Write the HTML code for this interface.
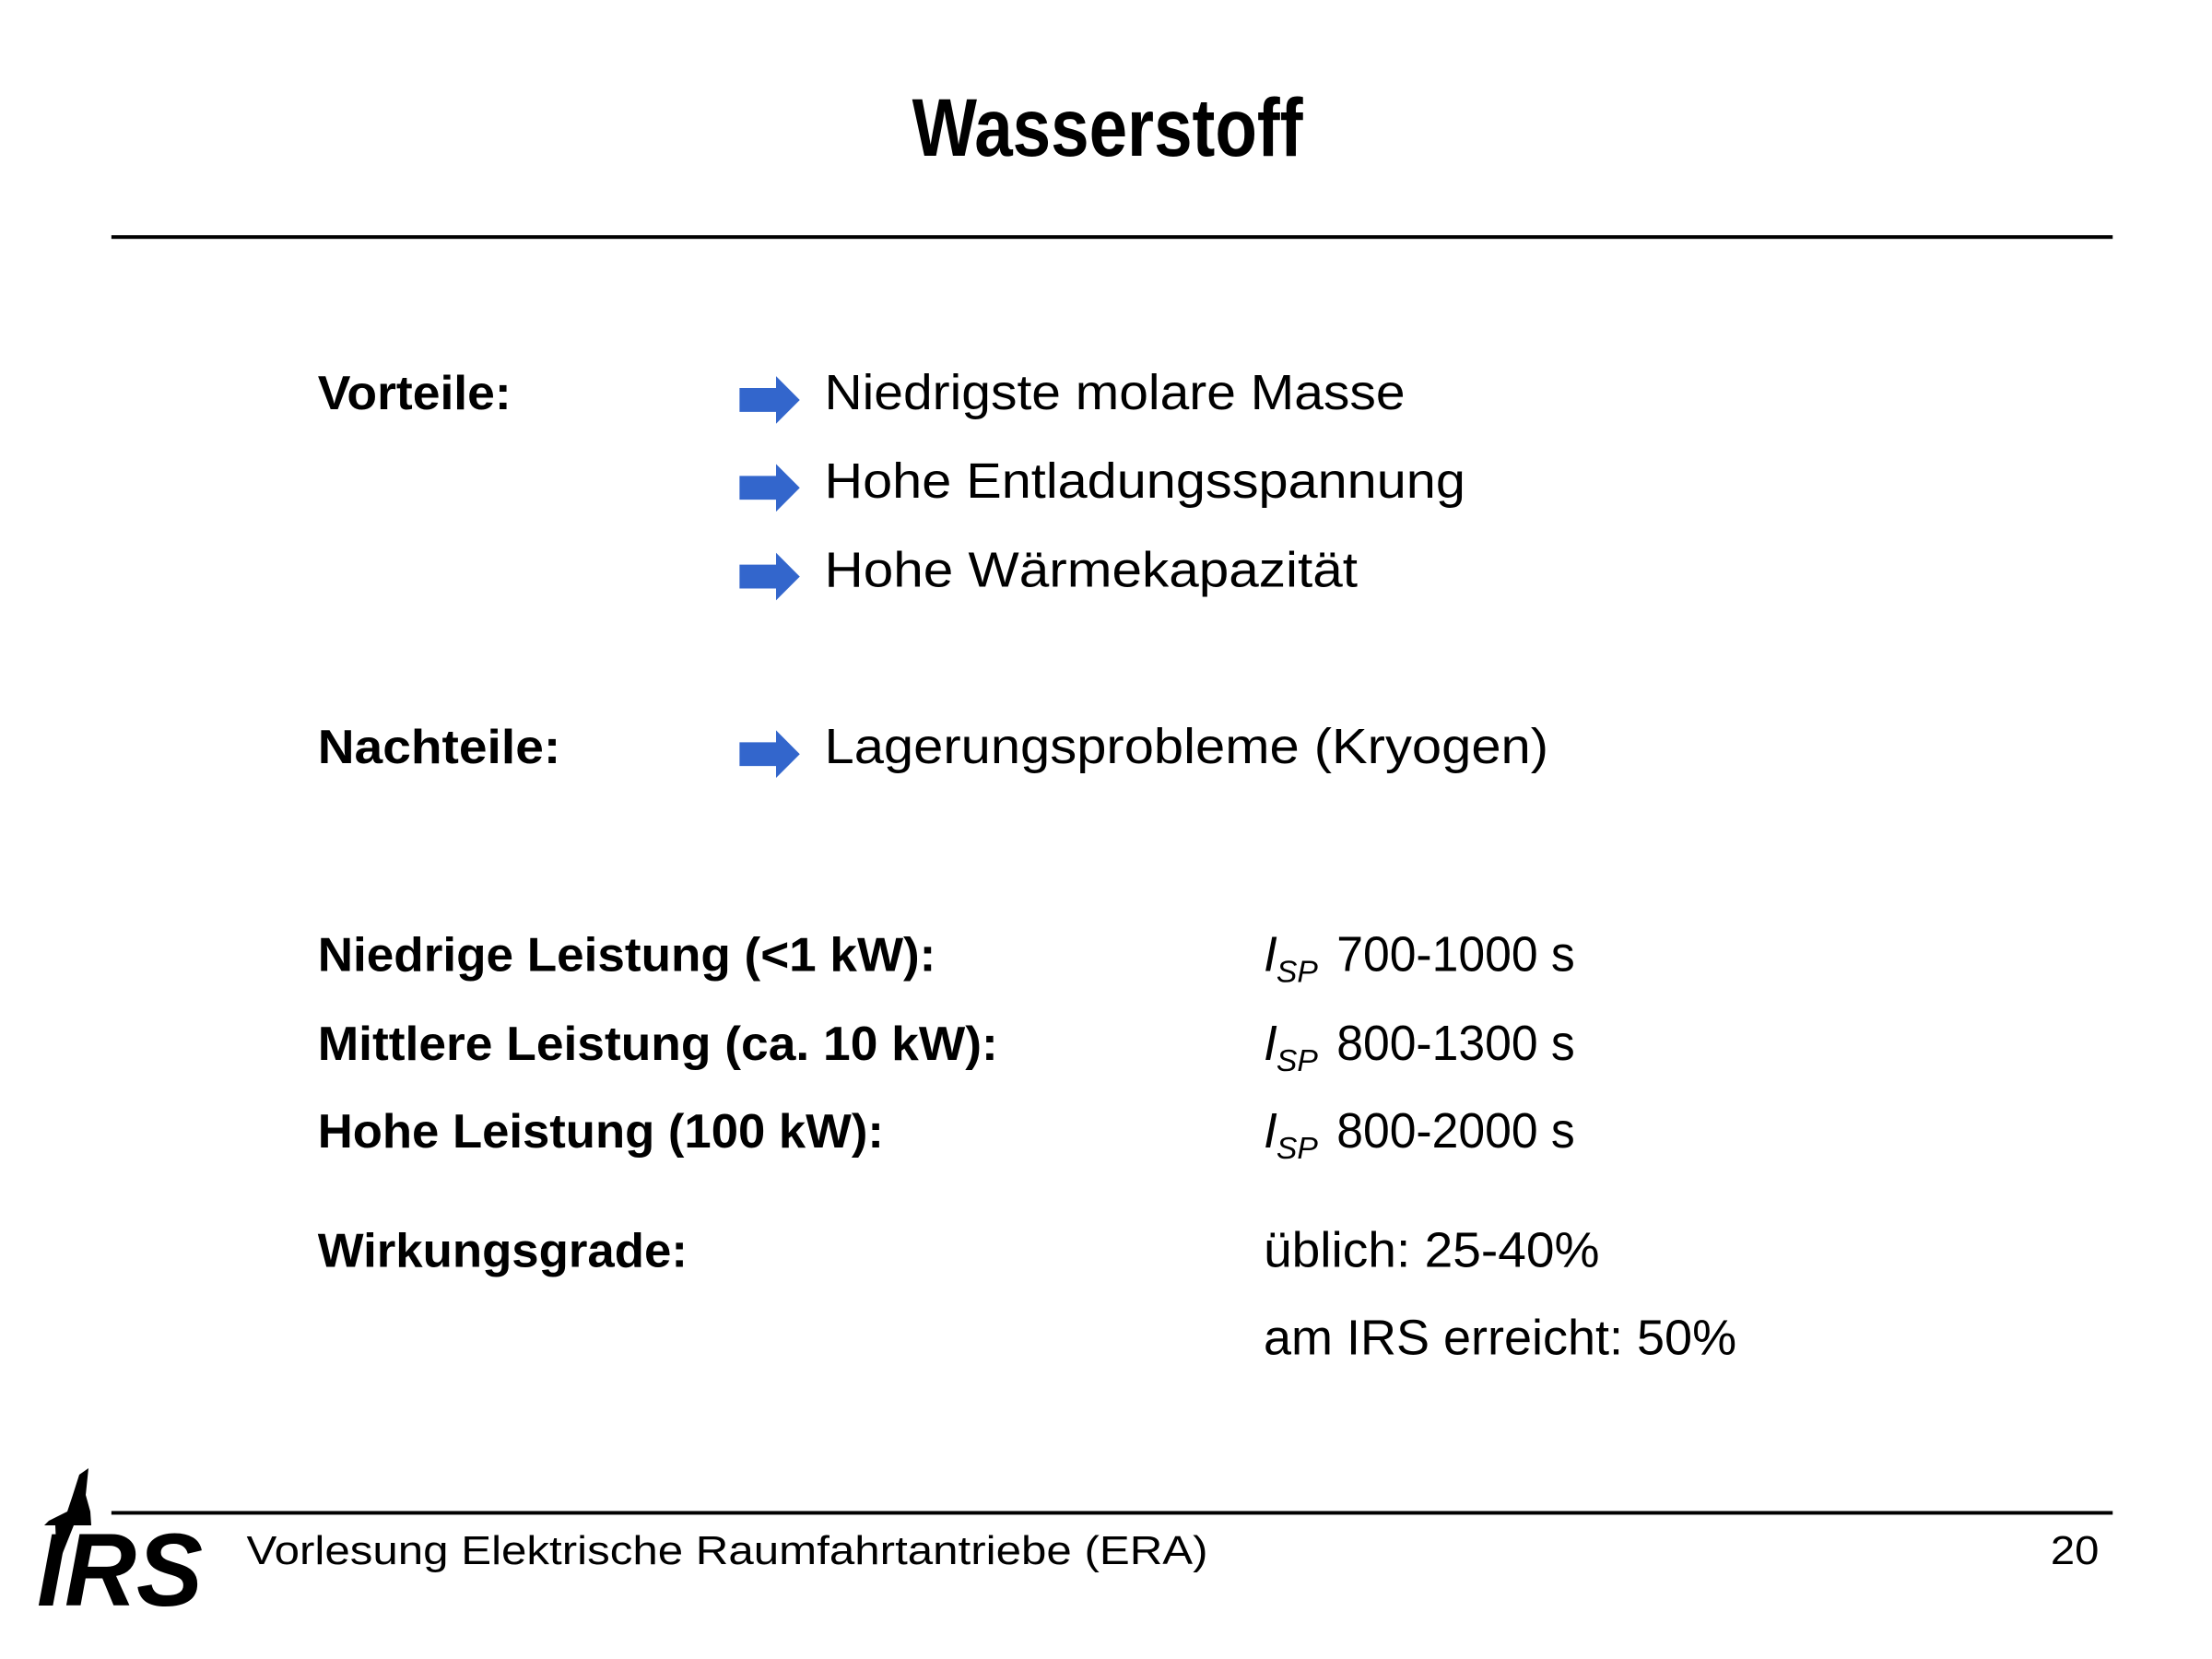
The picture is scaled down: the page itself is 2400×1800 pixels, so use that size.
<!DOCTYPE html>
<html><head><meta charset="utf-8"><style>html,body{margin:0;padding:0;background:#fff}svg{display:block}</style></head>
<body>
<svg width="2400" height="1800" viewBox="0 0 2400 1800" xmlns="http://www.w3.org/2000/svg" font-family="'Liberation Sans', sans-serif">
<rect width="2400" height="1800" fill="#fff"/>
<g transform="scale(0.9906 0.993)">
<text x="999" y="170" font-size="90" font-weight="bold" textLength="428" lengthAdjust="spacingAndGlyphs">Wasserstoff</text>
<rect x="122" y="257" width="2192" height="4" fill="#000"/>

<g font-size="52" font-weight="bold">
<text x="348" y="447" textLength="212" lengthAdjust="spacingAndGlyphs">Vorteile:</text>
<text x="348" y="834" textLength="266" lengthAdjust="spacingAndGlyphs">Nachteile:</text>
<text x="348" y="1061" textLength="677" lengthAdjust="spacingAndGlyphs">Niedrige Leistung (&lt;1 kW):</text>
<text x="348" y="1158" textLength="745" lengthAdjust="spacingAndGlyphs">Mittlere Leistung (ca. 10 kW):</text>
<text x="348" y="1254" textLength="620" lengthAdjust="spacingAndGlyphs">Hohe Leistung (100 kW):</text>
<text x="348" y="1384" textLength="405" lengthAdjust="spacingAndGlyphs">Wirkungsgrade:</text>
</g>

<g fill="#3366cc">
<polygon points="810,424 850,424 850,411 876,437 850,463 850,450 810,450"/>
<polygon points="810,520 850,520 850,507 876,533 850,559 850,546 810,546"/>
<polygon points="810,617 850,617 850,604 876,630 850,656 850,643 810,643"/>
<polygon points="810,811 850,811 850,798 876,824 850,850 850,837 810,837"/>
</g>

<g font-size="54">
<text x="903" y="447" textLength="636" lengthAdjust="spacingAndGlyphs">Niedrigste molare Masse</text>
<text x="903" y="544" textLength="702" lengthAdjust="spacingAndGlyphs">Hohe Entladungsspannung</text>
<text x="903" y="641" textLength="584" lengthAdjust="spacingAndGlyphs">Hohe Wärmekapazität</text>
<text x="903" y="834" textLength="793" lengthAdjust="spacingAndGlyphs">Lagerungsprobleme (Kryogen)</text>

<text x="1384" y="1061" font-style="italic">I</text><text x="1398" y="1073" font-size="34" font-style="italic">SP</text>
<text x="1464" y="1061" textLength="261" lengthAdjust="spacingAndGlyphs">700-1000 s</text>
<text x="1384" y="1158" font-style="italic">I</text><text x="1398" y="1170" font-size="34" font-style="italic">SP</text>
<text x="1464" y="1158" textLength="261" lengthAdjust="spacingAndGlyphs">800-1300 s</text>
<text x="1384" y="1254" font-style="italic">I</text><text x="1398" y="1266" font-size="34" font-style="italic">SP</text>
<text x="1464" y="1254" textLength="261" lengthAdjust="spacingAndGlyphs">800-2000 s</text>

<text x="1384" y="1384" textLength="368" lengthAdjust="spacingAndGlyphs">üblich: 25-40%</text>
<text x="1384" y="1480" textLength="518" lengthAdjust="spacingAndGlyphs">am IRS erreicht: 50%</text>
</g>

<rect x="122" y="1651" width="2192" height="4" fill="#000"/>
<text x="270" y="1709" font-size="44" textLength="1053" lengthAdjust="spacingAndGlyphs">Vorlesung Elektrische Raumfahrtantriebe (ERA)</text>
<text x="2246" y="1709" font-size="44" textLength="53" lengthAdjust="spacingAndGlyphs">20</text>
</g>

<polygon points="96,1593 86,1600 79,1622 73,1640 53,1650 48,1655 60,1655 62,1700 80,1655 99,1655 98,1640 93,1622" fill="#000"/>
<text x="40" y="1742" font-size="112" font-weight="bold" font-style="italic" textLength="180" lengthAdjust="spacingAndGlyphs">IRS</text>
</svg>
</body></html>
